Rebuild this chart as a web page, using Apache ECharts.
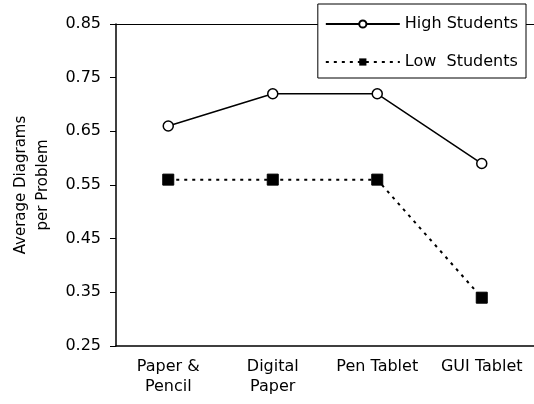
<!DOCTYPE html>
<html><head><meta charset="utf-8">
<script src="https://cdn.jsdelivr.net/npm/echarts@6/dist/echarts.min.js"></script>
<style>html,body{margin:0;padding:0;background:#fff}#c{width:534px;height:404px}</style>
</head><body><div id="c"></div>
<script>
const categories = ['Paper &\nPencil', 'Digital\nPaper', 'Pen Tablet', 'GUI Tablet'];
const highStudents = [0.66, 0.72, 0.72, 0.59];
const lowStudents = [0.56, 0.56, 0.56, 0.34];
const seriesNames = ['High Students', 'Low  Students'];
const yTicks = { min: 0.25, max: 0.85, interval: 0.1 };

const font = 'DejaVu Sans, sans-serif';
const chart = echarts.init(document.getElementById('c'), null, { renderer: 'canvas' });
chart.setOption({
  animation: false,
  backgroundColor: '#fff',
  textStyle: { fontFamily: font, color: '#000' },
  grid: { left: 116, right: 0, top: 24, bottom: 58, containLabel: false, outerBoundsMode: 'none' },
  legend: {
    orient: 'vertical', right: 8, top: 4,
    backgroundColor: '#fff', borderColor: '#000', borderWidth: 1,
    padding: [12, 8, 8, 7], itemGap: 22, itemWidth: 74, itemHeight: 9,
    textStyle: { fontFamily: font, fontSize: 16, color: '#000' },
    data: seriesNames,
    z: 10
  },
  xAxis: [{
    type: 'category', data: categories, boundaryGap: true,
    axisLine: { lineStyle: { color: '#000', width: 1.5 } },
    axisTick: { show: false },
    axisLabel: { color: '#000', fontSize: 16, fontFamily: font, margin: 11, lineHeight: 20, interval: 0 },
    splitLine: { show: false }
  }, {
    type: 'category', data: categories, position: 'top',
    axisLine: { show: true, lineStyle: { color: '#000', width: 1 } },
    axisTick: { show: false }, axisLabel: { show: false }
  }],
  yAxis: {
    type: 'value', min: yTicks.min, max: yTicks.max, interval: yTicks.interval,
    name: 'Average Diagrams\nper Problem', nameLocation: 'middle', nameGap: 59, nameRotate: 90,
    nameTextStyle: { fontSize: 15, fontFamily: font, color: '#000', lineHeight: 22 },
    axisLine: { show: true, lineStyle: { color: '#000', width: 1.5 } },
    axisTick: { show: true, inside: false, length: 6, lineStyle: { color: '#000' } },
    axisLabel: { color: '#000', fontSize: 16, fontFamily: font, margin: 15, formatter: v => v.toFixed(2) },
    splitLine: { show: false }
  },
  series: [{
    name: seriesNames[0], type: 'line', data: highStudents,
    symbol: 'circle', symbolSize: 10,
    lineStyle: { color: '#000', width: 1.5, type: 'solid' },
    itemStyle: { color: '#fff', borderColor: '#000', borderWidth: 1.5 }
  }, {
    name: seriesNames[1], type: 'line', data: lowStudents,
    symbol: 'rect', symbolSize: 11,
    lineStyle: { color: '#000', width: 2, type: [3, 5] },
    itemStyle: { color: '#000', borderColor: '#000' }
  }]
});
</script></body></html>
